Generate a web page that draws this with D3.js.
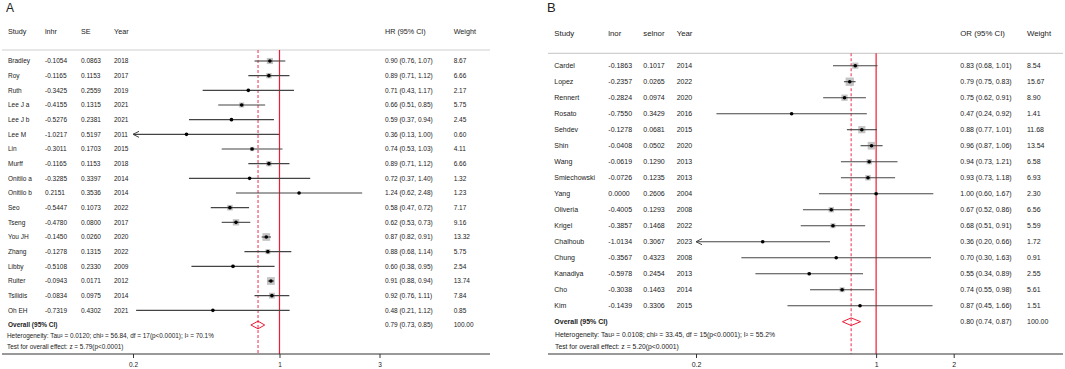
<!DOCTYPE html>
<html>
<head>
<meta charset="utf-8">
<script src="https://cdn.jsdelivr.net/npm/d3@7"></script>
<style>
  body { margin: 0; background: #fff; }
  text { font-family: "Liberation Sans", Arial, sans-serif; fill: #222; }
</style>
</head>
<body>
<div class="canvas"></div>
<script>
// panel A data
const studiesA = ['Bradley', 'Roy', 'Ruth', 'Lee J a', 'Lee J b', 'Lee M', 'Lin', 'Murff', 'Onitilo a', 'Onitilo b',
                  'Seo', 'Tseng', 'You JH', 'Zhang', 'Libby', 'Ruiter', 'Tsilidis', 'Oh EH']
const lnA = [-0.1054, -0.1165, -0.3425, -0.4155, -0.5276, -1.0217, -0.3011, -0.1165, -0.3285, 0.2151,
             -0.5447, -0.4780, -0.1450, -0.1278, -0.5108, -0.0943, -0.0834, -0.7319]
const seA = [0.0863, 0.1153, 0.2559, 0.1315, 0.2381, 0.5197, 0.1703, 0.1153, 0.3397, 0.3536,
             0.1073, 0.0800, 0.0260, 0.1315, 0.2330, 0.0171, 0.0975, 0.4302]
const yearA = [2018, 2017, 2019, 2021, 2021, 2011, 2015, 2018, 2014, 2014, 2022, 2017, 2020, 2022, 2009, 2012, 2014, 2021]
const weightA = [8.67, 6.66, 2.17, 5.75, 2.45, 0.60, 4.11, 6.66, 1.32, 1.23, 7.17, 9.16, 13.32, 5.75, 2.54, 13.74, 7.84, 0.85]
const overallA = [0.79, 0.73, 0.85]

// panel B data
const studiesB = ['Cardel', 'Lopez', 'Rennert', 'Rosato', 'Sehdev', 'Shin', 'Wang', 'Smiechowski', 'Yang', 'Oliveria',
                  'Krigel', 'Chalhoub', 'Chung', 'Kanadiya', 'Cho', 'Kim']
const lnB = [-0.1863, -0.2357, -0.2824, -0.7550, -0.1278, -0.0408, -0.0619, -0.0726, 0.0000, -0.4005,
             -0.3857, -1.0134, -0.3567, -0.5978, -0.3038, -0.1439]
const seB = [0.1017, 0.0265, 0.0974, 0.3429, 0.0681, 0.0502, 0.1290, 0.1235, 0.2606, 0.1293,
             0.1468, 0.3067, 0.4323, 0.2454, 0.1463, 0.3306]
const yearB = [2014, 2022, 2020, 2016, 2015, 2020, 2013, 2013, 2004, 2008, 2022, 2023, 2008, 2013, 2014, 2015]
const weightB = [8.54, 15.67, 8.90, 1.41, 11.68, 13.54, 6.58, 6.93, 2.30, 6.56, 5.59, 1.72, 0.91, 2.55, 5.61, 1.51]
const overallB = [0.80, 0.74, 0.87]

const ticksA = [0.2, 1, 3]
const ticksB = [0.2, 1, 2]

const dims = { width: 1065, height: 369 }

const svg = d3.select('.canvas')
              .append('svg')
              .attr('width', dims.width)
              .attr('height', dims.height)

const red = '#ec1c34'
const fmt2 = d3.format('.2f')

// one forest panel
const drawPanel = (p) => {

  const g = svg.append('g')
  const n = p.studies.length

  const rows = p.studies.map((s, i) => ({
    study: s, ln: p.ln[i], se: p.se[i], year: p.year[i], w: p.weight[i],
    est: Math.exp(p.ln[i]),
    lo: Math.exp(p.ln[i] - 1.96 * p.se[i]),
    hi: Math.exp(p.ln[i] + 1.96 * p.se[i])
  }))

  const x = d3.scaleLog().domain(p.domain).range(p.range)
  const y = d3.scaleLinear().domain([0, n]).range([p.top, p.bottom])
  const box = d3.scaleSqrt().domain([0, 16]).range([0, 8.4])

  // panel letter
  g.append('text').attr('x', p.left).attr('y', 12)
   .attr('font-size', p.letterSize).text(p.letter)

  // headers
  g.selectAll('.head').data(p.headers).enter()
   .append('text')
   .attr('x', d => d[0]).attr('y', p.headY)
   .attr('dy', '0.35em')
   .attr('font-size', p.headSize)
   .text(d => d[1])

  // separator under header
  g.append('line')
   .attr('x1', p.lineX[0]).attr('x2', p.lineX[1])
   .attr('y1', p.sepY).attr('y2', p.sepY)
   .attr('stroke', '#cfcfcf').attr('stroke-width', 1.2)

  // reference lines
  g.append('line')
   .attr('x1', x(1)).attr('x2', x(1))
   .attr('y1', p.sepY).attr('y2', p.axisY)
   .attr('stroke', red).attr('stroke-width', 1.2)

  g.append('line')
   .attr('x1', x(p.overall[0])).attr('x2', x(p.overall[0]))
   .attr('y1', p.sepY).attr('y2', p.axisY)
   .attr('stroke', '#f0506a').attr('stroke-width', 1.2)
   .attr('stroke-dasharray', '3,2')

  const xmin = p.domain[0]

  // table columns
  const cols = [
    [p.colX[0], d => d.study],
    [p.colX[1], d => d.ln.toFixed(4)],
    [p.colX[2], d => d.se.toFixed(4)],
    [p.colX[3], d => d.year],
    [p.colX[4], d => `${fmt2(d.est)} (${fmt2(d.lo)}, ${fmt2(d.hi)})`],
    [p.colX[5], d => d.w.toFixed(2)]
  ]
  cols.forEach(c => {
    g.selectAll(null).data(rows).enter()
     .append('text')
     .attr('x', c[0]).attr('y', (d, i) => y(i))
     .attr('dy', '0.35em')
     .attr('font-size', p.bodySize)
     .text(c[1])
  })

  const marks = g.selectAll('.row').data(rows).enter()
                 .append('g')
                 .attr('transform', (d, i) => `translate(0, ${y(i)})`)

  // weight boxes
  marks.append('rect')
       .attr('x', d => x(d.est) - box(d.w) / 2)
       .attr('y', d => -box(d.w) / 2)
       .attr('width', d => box(d.w))
       .attr('height', d => box(d.w))
       .attr('fill', '#c4c4c4')

  // CI lines, clipped at the axis minimum
  marks.append('line')
       .attr('x1', d => x(Math.max(d.lo, xmin)))
       .attr('x2', d => x(d.hi))
       .attr('stroke', '#444').attr('stroke-width', 1.1)

  // arrows for clipped CIs
  marks.filter(d => d.lo < xmin)
       .append('path')
       .attr('d', d => {
         const x0 = x(xmin)
         return `M${x0 + 6},-3 L${x0},0 L${x0 + 6},3`
       })
       .attr('fill', 'none').attr('stroke', '#444').attr('stroke-width', 1)

  marks.append('circle')
       .attr('cx', d => x(d.est))
       .attr('r', 1.8)
       .attr('fill', '#000')

  // overall
  const oy = y(n)
  g.append('text').attr('x', p.colX[0]).attr('y', oy).attr('dy', '0.35em')
   .attr('font-size', p.bodySize).attr('font-weight', 'bold')
   .text('Overall  (95% CI)')

  g.append('path')
   .attr('d', `M${x(p.overall[1])},${oy} L${x(p.overall[0])},${oy - 3.8} L${x(p.overall[2])},${oy} L${x(p.overall[0])},${oy + 3.8} Z`)
   .attr('fill', 'none').attr('stroke', red).attr('stroke-width', 1)

  g.append('text').attr('x', p.colX[4]).attr('y', oy).attr('dy', '0.35em')
   .attr('font-size', p.bodySize)
   .text(`${fmt2(p.overall[0])} (${fmt2(p.overall[1])}, ${fmt2(p.overall[2])})`)
  g.append('text').attr('x', p.colX[5]).attr('y', oy).attr('dy', '0.35em')
   .attr('font-size', p.bodySize).text('100.00')

  // heterogeneity + test text
  p.notes.forEach((t, i) => {
    g.append('text').attr('x', p.noteX).attr('y', p.noteY[i]).attr('dy', '0.35em')
     .attr('font-size', p.noteSize).text(t)
  })

  // axis
  g.append('line')
   .attr('x1', p.lineX[0]).attr('x2', p.lineX[1])
   .attr('y1', p.axisY).attr('y2', p.axisY)
   .attr('stroke', '#333').attr('stroke-width', 1)

  const axis = d3.axisBottom(x).tickValues(p.ticks).tickSize(4).tickFormat(d => d)
  const ax = g.append('g').attr('transform', `translate(0, ${p.axisY})`).call(axis)
  ax.select('.domain').remove()
  ax.selectAll('line').attr('stroke', '#333')
  ax.selectAll('text').attr('font-size', p.bodySize).attr('font-family', '"Liberation Sans", Arial, sans-serif')
    .attr('fill', '#222').attr('dy', '0.9em')
}

drawPanel({
  letter: 'A', letterSize: 12, left: 6,
  studies: studiesA, ln: lnA, se: seA, year: yearA, weight: weightA, overall: overallA,
  domain: [0.2, 3], range: [133, 379.5], ticks: ticksA,
  top: 61, bottom: 325, headY: 31.7, sepY: 50, axisY: 354,
  lineX: [2, 490],
  headers: [[8, 'Study'], [45, 'lnhr'], [81, 'SE'], [114, 'Year'], [385, 'HR (95% CI)'], [453.7, 'Weight']],
  colX: [8, 45, 81, 114, 385, 453.7],
  headSize: 7.2, bodySize: 6.5, noteSize: 6.4,
  noteX: 7, noteY: [335.7, 346.3],
  notes: ['Heterogeneity: Tau\u00b2 =  0.0120; chi\u00b2 =  56.84, df = 17(p<0.0001); I\u00b2 = 70.1%',
          'Test for overall effect: z = 5.79(p<0.0001)']
})

drawPanel({
  letter: 'B', letterSize: 13, left: 547,
  studies: studiesB, ln: lnB, se: seB, year: yearB, weight: weightB, overall: overallB,
  domain: [0.2, 2], range: [696, 953.7], ticks: ticksB,
  top: 65.7, bottom: 321.7, headY: 33.3, sepY: 53.3, axisY: 354,
  lineX: [548, 1063],
  headers: [[554.3, 'Study'], [608.3, 'lnor'], [643.3, 'selnor'], [676.7, 'Year'], [960.3, 'OR (95% CI)'], [1027, 'Weight']],
  colX: [554.3, 608.3, 643.3, 676.7, 960.3, 1027],
  headSize: 7.8, bodySize: 7, noteSize: 6.8,
  noteX: 555, noteY: [334.3, 346.7],
  notes: ['Heterogeneity: Tau\u00b2 =  0.0108; chi\u00b2 =  33.45, df = 15(p<0.0001); I\u00b2 =  55.2%',
          'Test for overall effect: z = 5.20(p<0.0001)']
})
</script>
</body>
</html>
